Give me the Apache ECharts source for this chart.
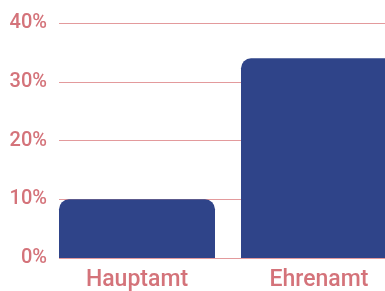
<!DOCTYPE html>
<html><head><meta charset="utf-8">
<script src="https://cdn.jsdelivr.net/npm/echarts@6/dist/echarts.min.js"></script>
<style>html,body{margin:0;padding:0;background:#fff}#c{width:385px;height:291px}</style>
</head><body><div id="c"></div>
<script>
const categories = ['Hauptamt', 'Ehrenamt'];
const values = [10, 34];
const yTicks = [0, 10, 20, 30, 40];

const pink = '#d4737a';
const font = 'Roboto, "DejaVu Sans Condensed", sans-serif';
const chart = echarts.init(document.getElementById('c'));
chart.setOption({
  animation: false,
  grid: [
    {left: 59, right: 0, top: 23, bottom: 33, outerBoundsMode: 'none'},
    {left: 46, right: -25, top: 23, bottom: 33, outerBoundsMode: 'none'}
  ],
  xAxis: [
    {gridIndex: 0, type: 'category', data: categories, show: false},
    {gridIndex: 1, type: 'category', data: categories,
     axisLine: {show: false}, axisTick: {show: false},
     axisLabel: {color: pink, fontSize: 23, fontFamily: font, fontWeight: 500, margin: 11}}
  ],
  yAxis: [
    {gridIndex: 0, type: 'value', min: yTicks[0], max: yTicks[yTicks.length-1], interval: 10,
     axisLine: {show: false}, axisTick: {show: false},
     axisLabel: {color: pink, fontSize: 20, fontFamily: font, fontWeight: 500, margin: 12,
                 formatter: v => v + '%'},
     splitLine: {lineStyle: {color: '#e39a9c', width: 1}}},
    {gridIndex: 1, type: 'value', min: yTicks[0], max: yTicks[yTicks.length-1], interval: 10,
     show: false, splitLine: {show: false}}
  ],
  series: [{
    type: 'bar', xAxisIndex: 1, yAxisIndex: 1,
    data: values, barWidth: 156,
    itemStyle: {color: '#2f4489', borderRadius: [10, 10, 0, 0]}
  }]
});
</script></body></html>
